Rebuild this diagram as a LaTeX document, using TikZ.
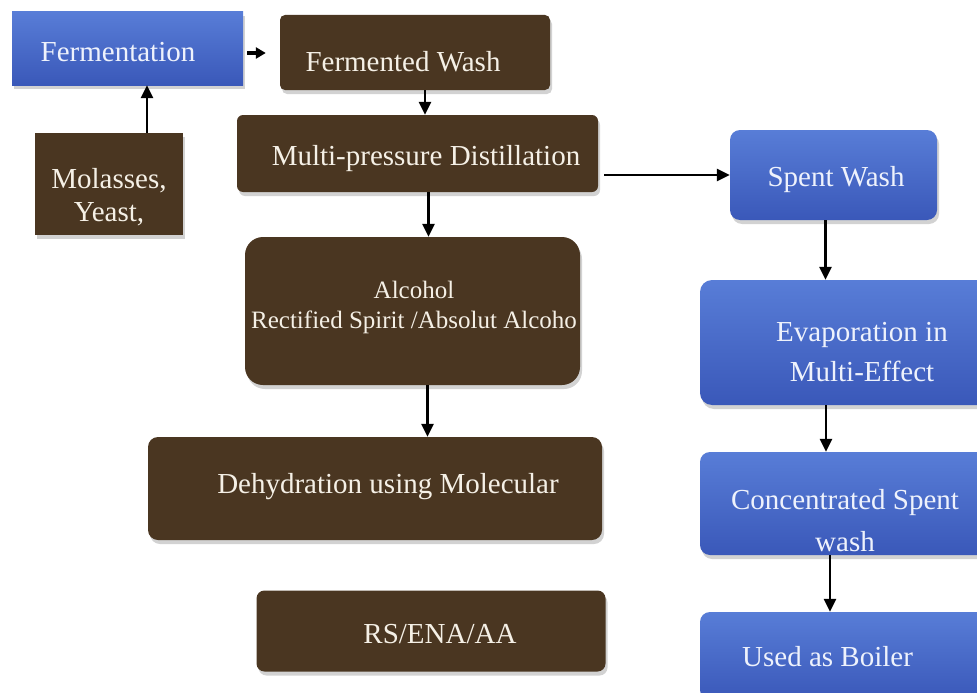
\documentclass[tikz,border=0pt]{standalone}
\usepackage{fontspec}
\setmainfont{Liberation Serif}
\usetikzlibrary{shadows,arrows.meta}
\definecolor{brownfill}{RGB}{74,54,33}
\definecolor{bluetop}{RGB}{88,125,215}
\definecolor{bluebot}{RGB}{58,88,185}
\definecolor{textcream}{RGB}{245,240,230}
\definecolor{textblue}{RGB}{238,242,252}
\begin{document}
\begin{tikzpicture}[x=1pt,y=-1pt,
  base/.style={inner sep=0pt,
    drop shadow={opacity=0.35, shadow xshift=2pt, shadow yshift=-4pt}},
  brownbox/.style={base, fill=brownfill},
  bluebox/.style={base, top color=bluetop, bottom color=bluebot},
  lbl/.style={inner sep=0pt, align=center, font=\fontsize{29}{33}\selectfont, text=textcream},
  lblb/.style={lbl, text=textblue},
  arr/.style={draw=black, line width=2.6pt, -{Triangle[length=13pt,width=12pt]}}
]
\useasboundingbox (0,0) rectangle (977,693);
\fill[white] (0,0) rectangle (977,693);
% boxes
\node[bluebox, minimum width=231pt, minimum height=73pt] (ferm) at (127.5,48.5) {};
\node[brownbox, rounded corners=5pt, minimum width=270pt, minimum height=75pt] (fw) at (415,52.5) {};
\node[brownbox, minimum width=148pt, minimum height=102pt] (mol) at (109,184) {};
\node[brownbox, rounded corners=6pt, minimum width=361pt, minimum height=77pt] (mpd) at (417.5,153.5) {};
\node[brownbox, rounded corners=18pt, minimum width=335pt, minimum height=148pt] (alc) at (412.5,311) {};
\node[brownbox, rounded corners=10pt, minimum width=454pt, minimum height=103pt] (dehyd) at (375,488.5) {};
\node[brownbox, rounded corners=8pt, minimum width=349pt, minimum height=81pt] (rs) at (431,631) {};
\node[bluebox, rounded corners=10pt, minimum width=207pt, minimum height=90pt] (sw) at (833.5,175) {};
\node[bluebox, rounded corners=12pt, minimum width=324pt, minimum height=125pt] (evap) at (862,342.5) {};
\node[bluebox, rounded corners=10pt, minimum width=300pt, minimum height=103pt] (conc) at (850,503.5) {};
\node[bluebox, rounded corners=10pt, minimum width=300pt, minimum height=88pt] (used) at (850,656) {};
% texts
\node[lblb] (fermt) at (118,52) {Fermentation};
\node[lbl] (fwt) at (403,62) {Fermented Wash};
\node[lbl] (molt) at (109,197) {Molasses,\\Yeast,};
\node[lbl] (mpdt) at (426,159) {Multi-pressure Distillation};
\node[lbl, font=\fontsize{25}{30}\selectfont] (alct) at (414,307) {Alcohol\\Rectified Spirit /Absolut Alcoho};
\node[lbl] (dehydt) at (388,487) {Dehydration using Molecular};
\node[lbl] (rst) at (440,634) {RS/ENA/AA};
\node[lblb] (swt) at (836,180) {Spent Wash};
\node[lblb, font=\fontsize{29}{40}\selectfont] (evapt) at (862,352) {Evaporation in\\Multi-Effect};
\node[lblb, font=\fontsize{29}{42}\selectfont] (conct) at (845,521) {Concentrated Spent\\wash};
\node[lblb, anchor=west] (usedt) at (742,657) {Used as Boiler};
% connectors
\draw[arr, line width=3.6pt, -{Triangle[length=10pt,width=11pt]}] ([shift={(4,4.5)}]ferm.east) -- ([shift={(-14,0.5)}]fw.west);
\draw[arr] ([xshift=38pt]mol.north) -- ([xshift=38pt]mol.north |- ferm.south);
\draw[arr] ([xshift=10pt]fw.south) -- ([xshift=10pt]fw.south |- mpd.north);
\draw[arr] ([xshift=11pt]mpd.south) -- ([xshift=11pt]mpd.south |- alc.north);
\draw[arr] ([xshift=6pt]mpd.east |- sw.west) -- (sw.west);
\draw[arr] ([xshift=-8pt]sw.south) -- ([xshift=-8pt]sw.south |- evap.north);
\draw[arr] ([xshift=15pt]alc.south) -- ([xshift=15pt]alc.south |- dehyd.north);
\draw[arr] ([xshift=-36pt]evap.south) -- ([xshift=-36pt]evap.south |- conc.north);
\draw[arr] ([xshift=-20pt]conc.south) -- ([xshift=-20pt]conc.south |- used.north);
\end{tikzpicture}
\end{document}
